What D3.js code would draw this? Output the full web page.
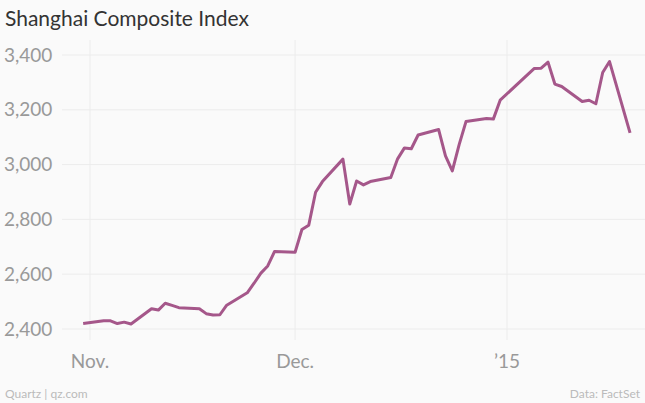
<!DOCTYPE html>
<html><head><meta charset="utf-8">
<script src="https://cdn.jsdelivr.net/npm/d3@7"></script>
<style>body{margin:0;background:#fff;font-family:Lato,"Open Sans",sans-serif}</style>
</head><body><svg id="c" width="645" height="403"></svg>
<script>
// trading days and closes
const dates = ["2014-10-31","2014-11-03","2014-11-04","2014-11-05","2014-11-06","2014-11-07","2014-11-10","2014-11-11","2014-11-12","2014-11-13","2014-11-14","2014-11-17","2014-11-18","2014-11-19","2014-11-20","2014-11-21","2014-11-24","2014-11-25","2014-11-26","2014-11-27","2014-11-28","2014-12-01","2014-12-02","2014-12-03","2014-12-04","2014-12-05","2014-12-08","2014-12-09","2014-12-10","2014-12-11","2014-12-12","2014-12-15","2014-12-16","2014-12-17","2014-12-18","2014-12-19","2014-12-22","2014-12-23","2014-12-24","2014-12-25","2014-12-26","2014-12-29","2014-12-30","2014-12-31","2015-01-05","2015-01-06","2015-01-07","2015-01-08","2015-01-09","2015-01-12","2015-01-13","2015-01-14","2015-01-15","2015-01-16","2015-01-19"];
const closes = [2420,2430,2430,2420,2425,2418,2474,2469,2494,2486,2478,2474,2456,2451,2452,2487,2532,2567,2604,2630,2683,2680,2763,2779,2899,2938,3020,2856,2940,2926,2938,2953,3021,3061,3058,3108,3128,3032,2977,3073,3157,3168,3166,3235,3351,3352,3374,3294,3285,3230,3235,3222,3336,3376,3116];
const yTicks = [2400,2600,2800,3000,3200,3400];
const xTicks = ["2014-11-01","2014-12-01","2015-01-01"];
const xTickLabels = ["Nov.","Dec.","’15"];

const parse = d3.timeParse("%Y-%m-%d");
const data = dates.map((d,i) => ({date: parse(d), v: closes[i]}));
const svg = d3.select("#c");
const W = 645;

const x = d3.scaleTime().domain([parse("2014-11-01"), parse("2015-01-01")]).range([90, 507]);
const y = d3.scaleLinear().domain([2400, 3400]).range([329, 55]);

svg.append("rect").attr("width", W).attr("height", 403).attr("fill", "#fafafa");
svg.append("text").attr("x", 5).attr("y", 26).attr("font-size", 21).attr("fill", "#333").text("Shanghai Composite Index");

const g = svg.append("g");
xTicks.forEach((t, i) => {
  const xp = x(parse(t));
  g.append("line").attr("x1", xp).attr("x2", xp).attr("y1", 40).attr("y2", 340).attr("stroke", "#ececec");
  g.append("text").attr("x", xp).attr("y", 368).attr("text-anchor", "middle").attr("font-size", 19)
    .attr("fill", "#999").text(xTickLabels[i]);
});
yTicks.forEach(t => {
  g.append("line").attr("x1", 62).attr("x2", W).attr("y1", y(t)).attr("y2", y(t))
    .attr("stroke", "#ececec").attr("stroke-width", 1);
  g.append("text").attr("x", 4).attr("y", y(t)).attr("dy", "0.35em").attr("font-size", 19).attr("fill", "#999")
    .text(d3.format(",")(t));
});

svg.append("path").datum(data)
  .attr("d", d3.line().x(d => x(d.date)).y(d => y(d.v)))
  .attr("fill", "none").attr("stroke", "#a5578a").attr("stroke-width", 3).attr("stroke-linejoin", "round");

svg.append("text").attr("x", 5).attr("y", 398).attr("font-size", 12).attr("fill", "#bbb").text("Quartz | qz.com");
svg.append("text").attr("x", 640).attr("y", 398).attr("text-anchor", "end").attr("font-size", 12).attr("fill", "#bbb").text("Data: FactSet");
</script></body></html>
